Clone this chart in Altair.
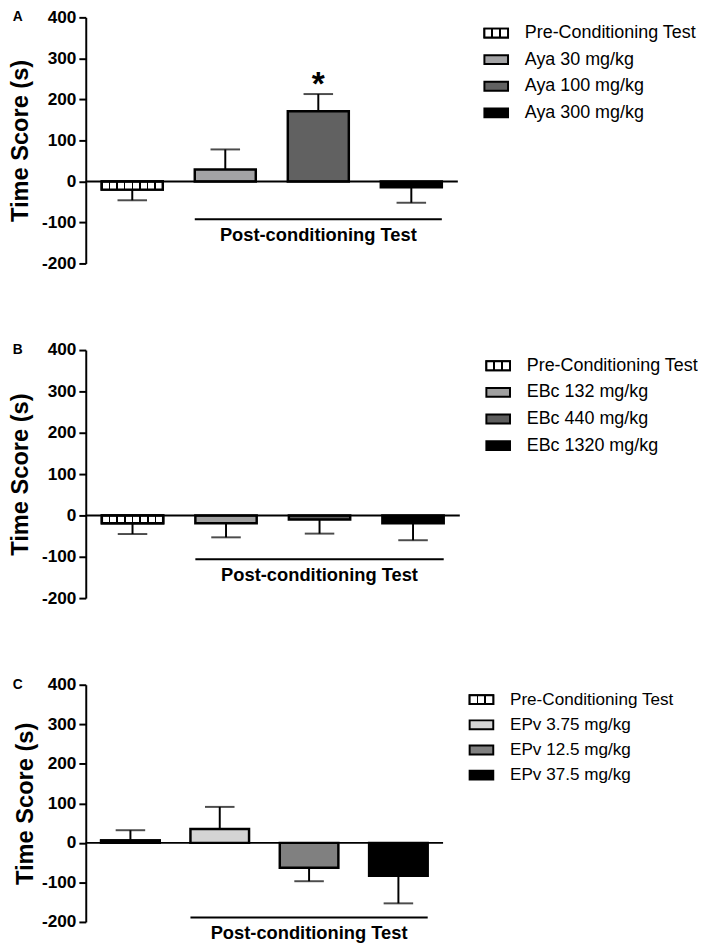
import altair as alt
import pandas as pd

FONT = "Liberation Sans, Arial, sans-serif"
PRE = "Pre-Conditioning Test"
POST = "Post-conditioning Test"

# Panel A
groups_a = [PRE, "Aya 30 mg/kg", "Aya 100 mg/kg", "Aya 300 mg/kg"]
means_a = [-20, 29, 171, -14]
errs_a = [26, 49, 42, 38]
sig_a = ["", "", "*", ""]
colors_a = ["#ffffff", "#a3a3a5", "#616161", "#000000"]
bracket_a = -92

# Panel B
groups_b = [PRE, "EBc 132 mg/kg", "EBc 440 mg/kg", "EBc 1320 mg/kg"]
means_b = [-19, -19, -10, -19]
errs_b = [26, 34, 34, 41]
sig_b = ["", "", "", ""]
colors_b = ["#ffffff", "#a0a0a0", "#5e5e5e", "#000000"]
bracket_b = -106

# Panel C
groups_c = [PRE, "EPv 3.75 mg/kg", "EPv 12.5 mg/kg", "EPv 37.5 mg/kg"]
means_c = [6, 35, -63, -83]
errs_c = [26, 56, 34, 70]
sig_c = ["", "", "", ""]
colors_c = ["#ffffff", "#d4d4d4", "#808080", "#000000"]
bracket_c = -189

Y_TICKS = [-200, -100, 0, 100, 200, 300, 400]


def stripes(n, half):
    stops = [{"offset": 0, "color": "#ffffff"}]
    for k in range(1, n):
        o = k / n
        stops += [
            {"offset": o - half, "color": "#ffffff"},
            {"offset": o - half, "color": "#000000"},
            {"offset": o + half, "color": "#000000"},
            {"offset": o + half, "color": "#ffffff"},
        ]
    stops.append({"offset": 1, "color": "#ffffff"})
    return {"gradient": "linear", "x1": 0, "y1": 0, "x2": 1, "y2": 0, "stops": stops}


def panel(letter, groups, means, errs, sig, colors, bracket, width, height,
          lfont, title_pad, leg_h):
    df = pd.DataFrame({"group": groups, "mean": means, "err": errs, "sig": sig})
    df["end"] = [m + (e if m >= 0 else -e) for m, e in zip(means, errs)]

    xscale = alt.Scale(domain=groups, paddingInner=0.344, paddingOuter=0.172)
    yscale = alt.Scale(domain=[-200, 400], nice=False)
    yaxis = alt.Axis(
        values=Y_TICKS, labelExpr="'' + datum.value", grid=False,
        labelFontSize=17.5, labelFontWeight="bold", labelColor="black", labelPadding=3,
        tickColor="black", tickWidth=2, tickSize=7,
        domainColor="black", domainWidth=2,
        title="Time Score (s)", titleFontSize=24, titleFontWeight="bold",
        titleColor="black", titlePadding=title_pad,
    )

    def X(field, **kw):
        return alt.X(field, scale=xscale, axis=None, **kw)

    def Y(field):
        return alt.Y(field, scale=yscale, axis=yaxis)

    base = alt.Chart(df)

    err_rule = base.mark_rule(color="black", strokeWidth=2).encode(
        x=X("group:N"), y=Y("mean:Q"), y2="end:Q")
    err_cap = base.mark_tick(color="black", thickness=2, size=30, orient="horizontal").encode(
        x=X("group:N"), y=Y("end:Q"))
    bars = base.mark_bar(stroke="black", strokeWidth=2.5).encode(
        x=X("group:N"), y=Y("mean:Q"),
        fill=alt.Fill("group:N", scale=alt.Scale(domain=groups, range=colors), legend=None))
    pre_bar = base.transform_filter(alt.datum.group == PRE).mark_bar(
        stroke="black", strokeWidth=2.5, fill=stripes(8, 0.012)).encode(
        x=X("group:N"), y=Y("mean:Q"))
    sig_text = base.mark_text(fontSize=34, fontWeight="bold", baseline="alphabetic", dy=1).encode(
        x=X("group:N"), y=Y("end:Q"), text="sig:N")

    zdf = pd.DataFrame({"z": [0]})
    zero = alt.Chart(zdf).mark_rule(color="black", strokeWidth=2).encode(y=Y("z:Q"))

    bdf = pd.DataFrame({"x1": [groups[1]], "x2": [groups[3]], "mid": [groups[2]],
                        "yb": [bracket], "label": [POST]})
    br = alt.Chart(bdf)
    br_rule = br.mark_rule(color="black", strokeWidth=2).encode(
        x=X("x1:N", bandPosition=0), x2=alt.X2("x2:N", bandPosition=1), y=Y("yb:Q"))
    br_text = br.mark_text(fontSize=18.6, fontWeight="bold", baseline="middle", dy=16).encode(
        x=X("mid:N"), y=Y("yb:Q"), text="label:N")

    let = alt.Chart(zdf).mark_text(text=letter, fontSize=14, fontWeight="bold",
                                   align="center", baseline="middle").encode(
        x=alt.value(-69), y=alt.value(0))

    main = alt.layer(err_rule, err_cap, bars, pre_bar, sig_text, zero, br_rule, br_text, let).properties(
        width=width, height=height)

    ldf = pd.DataFrame({"label": groups})
    lscale = alt.Scale(domain=groups, type="point", padding=0.59)
    shape = "M-1,-0.375H1V0.375H-1Z"
    lbase = alt.Chart(ldf)
    ly = alt.Y("label:N", scale=lscale, axis=None)
    sym = lbase.mark_point(shape=shape, size=576, filled=True, stroke="black", strokeWidth=2,
                           opacity=1, fillOpacity=1).encode(
        x=alt.value(13), y=ly,
        fill=alt.Fill("label:N", scale=alt.Scale(domain=groups, range=colors), legend=None))
    sym_pre = lbase.transform_filter(alt.datum.label == PRE).mark_point(
        shape=shape, size=576, filled=True, stroke="black", strokeWidth=2,
        opacity=1, fillOpacity=1, fill=stripes(3, 0.04)).encode(x=alt.value(13), y=ly)
    txt = lbase.mark_text(align="left", baseline="middle", fontSize=lfont, color="black").encode(
        x=alt.value(42), y=ly, text="label:N")
    legend = alt.layer(sym, sym_pre, txt).properties(width=180, height=leg_h)

    return alt.hconcat(main, legend, spacing=22)


row_a = panel("A", groups_a, means_a, errs_a, sig_a, colors_a, bracket_a, 378, 250, 18.2, 9, 113)
row_b = panel("B", groups_b, means_b, errs_b, sig_b, colors_b, bracket_b, 380, 252, 18.2, 9, 113)
row_c = panel("C", groups_c, means_c, errs_c, sig_c, colors_c, bracket_c, 363, 241, 17.4, 4, 107)

chart = alt.vconcat(row_a, row_b, row_c, spacing=70).properties(
    padding={"left": 0, "top": -7, "right": 0, "bottom": 0}
).configure(font=FONT).configure_view(strokeWidth=0).resolve_scale(x="independent", y="independent", fill="independent")

chart.save("out.html", embed_options={"renderer": "svg", "actions": False})
